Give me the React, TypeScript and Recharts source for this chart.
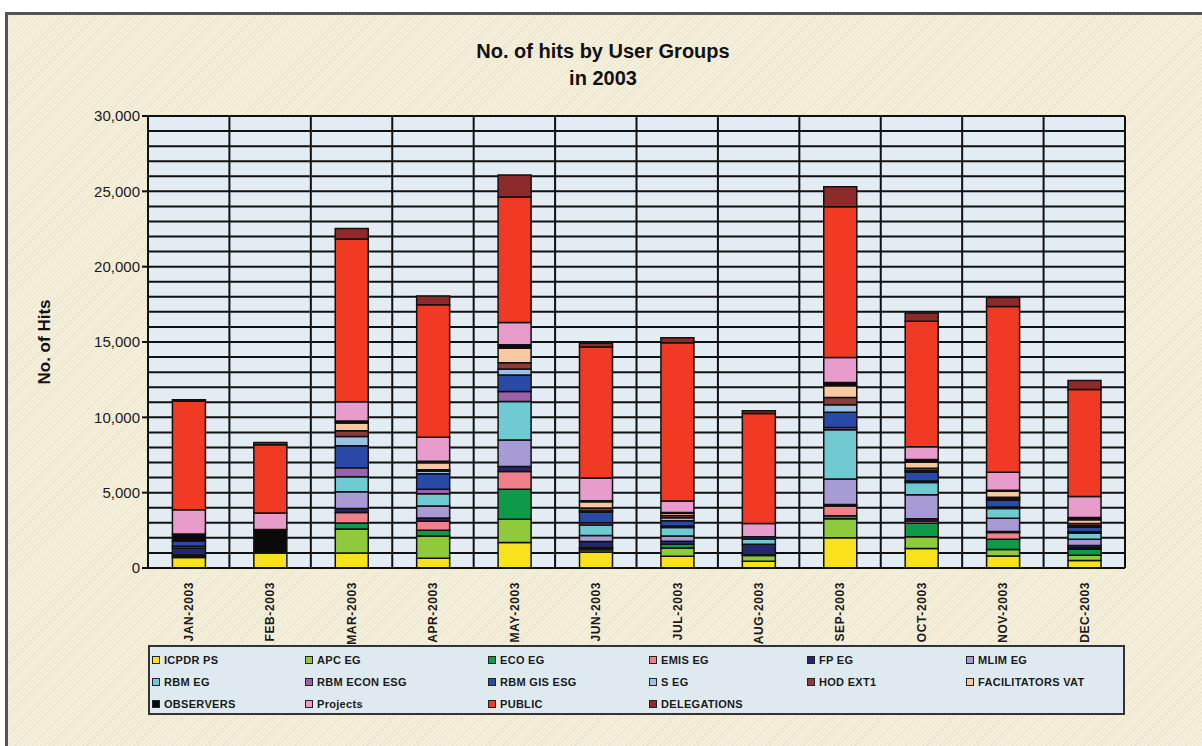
import React from 'react';
import { BarChart, Bar, XAxis, YAxis, CartesianGrid, Legend } from 'recharts';

const months = ['JAN-2003', 'FEB-2003', 'MAR-2003', 'APR-2003', 'MAY-2003', 'JUN-2003', 'JUL-2003', 'AUG-2003', 'SEP-2003', 'OCT-2003', 'NOV-2003', 'DEC-2003'];

const icpdrPs = [700, 1000, 1000, 650, 1700, 1060, 780, 450, 2000, 1300, 800, 500];
const apcEg = [100, 0, 1590, 1470, 1530, 150, 550, 380, 1270, 770, 420, 350];
const ecoEg = [60, 0, 400, 380, 2000, 100, 250, 50, 200, 900, 680, 400];
const emisEg = [0, 0, 700, 600, 1170, 50, 0, 0, 640, 150, 450, 100];
const fpEg = [470, 0, 265, 220, 330, 400, 200, 700, 100, 150, 80, 150];
const mlimEg = [120, 0, 1100, 790, 1770, 400, 350, 0, 1700, 1600, 870, 400];
const rbmEg = [0, 0, 1000, 820, 2550, 700, 550, 350, 3270, 800, 650, 400];
const rbmEconEsg = [0, 0, 600, 290, 660, 150, 100, 0, 150, 100, 100, 100];
const rbmGisEsg = [350, 0, 1460, 1040, 1100, 700, 350, 150, 1000, 600, 450, 300];
const sEg = [0, 0, 620, 160, 390, 80, 200, 0, 500, 100, 100, 100];
const hodExt1 = [0, 0, 375, 100, 430, 200, 150, 0, 490, 150, 100, 150];
const facilitatorsVat = [0, 0, 510, 470, 960, 400, 150, 0, 770, 400, 400, 250];
const observers = [450, 1550, 130, 100, 220, 80, 50, 0, 220, 180, 60, 150];
const projects = [1620, 1100, 1280, 1580, 1480, 1500, 770, 880, 1660, 840, 1200, 1400];
const publicHits = [7190, 4535, 10800, 8800, 8340, 8700, 10500, 7300, 10000, 8340, 11000, 7100];
const delegations = [110, 150, 700, 575, 1460, 250, 330, 170, 1330, 550, 590, 600];

const yTicks = [0, 5000, 10000, 15000, 20000, 25000, 30000];
const boundTicks = [0, 1, 2, 3, 4, 5, 6, 7, 8, 9, 10, 11, 12];

const series = [
  { key: 's1', name: 'ICPDR PS', color: '#f7e21b', values: icpdrPs },
  { key: 's2', name: 'APC EG', color: '#8fca3c', values: apcEg },
  { key: 's3', name: 'ECO EG', color: '#0f9a4a', values: ecoEg },
  { key: 's4', name: 'EMIS EG', color: '#f2808a', values: emisEg },
  { key: 's5', name: 'FP EG', color: '#26266a', values: fpEg },
  { key: 's6', name: 'MLIM EG', color: '#a89ad4', values: mlimEg },
  { key: 's7', name: 'RBM EG', color: '#6fcad2', values: rbmEg },
  { key: 's8', name: 'RBM ECON ESG', color: '#9a62a8', values: rbmEconEsg },
  { key: 's9', name: 'RBM GIS ESG', color: '#2a4aa8', values: rbmGisEsg },
  { key: 's10', name: 'S EG', color: '#9cc0e6', values: sEg },
  { key: 's11', name: 'HOD EXT1', color: '#8c3a3a', values: hodExt1 },
  { key: 's12', name: 'FACILITATORS VAT', color: '#f8c8a0', values: facilitatorsVat },
  { key: 's13', name: 'OBSERVERS', color: '#0a0a0a', values: observers },
  { key: 's14', name: 'Projects', color: '#e89ccc', values: projects },
  { key: 's15', name: 'PUBLIC', color: '#f03a24', values: publicHits },
  { key: 's16', name: 'DELEGATIONS', color: '#8e2a2a', values: delegations },
];

const seriesOrder = series.map((s) => s.name);

const data = months.map((m, i) => {
  const row: Record<string, any> = { month: m };
  series.forEach((s) => {
    row[s.key] = s.values[i];
  });
  return row;
});

const FONT = '"Liberation Sans", Arial, sans-serif';

const XTick = (props: any) => {
  const { x, y, payload } = props;
  return (
    <g transform={`translate(${x},${y})`}>
      <text
        transform="rotate(-90)"
        x={-6}
        y={0}
        dy="0.36em"
        textAnchor="end"
        fontSize={12}
        fontWeight="bold"
        fontFamily={FONT}
        fill="#1a1a1a"
        letterSpacing={0.6}
      >
        {payload.value}
      </text>
    </g>
  );
};

const colX = [2, 155, 338, 499, 657, 816];
const rowY = [5, 27, 49];

const LegendContent = (props: any) => {
  const payload = (props.payload || [])
    .slice()
    .sort((a: any, b: any) => seriesOrder.indexOf(a.value) - seriesOrder.indexOf(b.value));
  return (
    <div
      style={{
        position: 'relative',
        width: 977,
        height: 70,
        boxSizing: 'border-box',
        border: '2px solid #333',
        background: '#dfeaf0',
        fontFamily: FONT,
      }}
    >
      {payload.map((entry: any, i: number) => {
        const col = i % 6;
        const row = Math.floor(i / 6);
        return (
          <div
            key={i}
            style={{
              position: 'absolute',
              left: colX[col],
              top: rowY[row],
              height: 16,
              display: 'flex',
              alignItems: 'center',
              whiteSpace: 'nowrap',
              fontSize: 11,
              fontWeight: 'bold',
              color: '#1a1a1a',
              letterSpacing: 0.3,
            }}
          >
            <span
              style={{
                display: 'inline-block',
                width: 6,
                height: 6,
                background: entry.color,
                border: '1px solid #222',
                marginRight: 4,
              }}
            />
            {entry.value}
          </div>
        );
      })}
    </div>
  );
};

export default function App() {
  return (
    <div
      style={{
        position: 'fixed',
        left: 0,
        top: 0,
        width: 1202,
        height: 746,
        overflow: 'hidden',
        background: '#ffffff',
      }}
    >
      <div
        style={{
          position: 'absolute',
          left: 5,
          top: 12,
          width: 1220,
          height: 760,
          borderTop: '3px solid #555',
          borderLeft: '3px solid #555',
          background:
            'repeating-linear-gradient(135deg, #f5f0dc 0px, #f5f0dc 2px, #ece6cd 2px, #ece6cd 3px)',
        }}
      />
      <div
        style={{
          position: 'absolute',
          left: 0,
          width: 1206,
          top: 38,
          textAlign: 'center',
          fontFamily: FONT,
          fontWeight: 'bold',
          fontSize: 20,
          color: '#111',
          lineHeight: '27px',
        }}
      >
        <div>No. of hits by User Groups</div>
        <div>in 2003</div>
      </div>
      <div style={{ position: 'absolute', left: 0, top: 0 }}>
        <BarChart
          width={1202}
          height={746}
          data={data}
          margin={{ top: 116, right: 77, bottom: 108, left: 88 }}
          barCategoryGap="30%"
        >
          <CartesianGrid
            fill="#e2ecf2"
            fillOpacity={1}
            stroke="#111"
            strokeWidth={2}
            horizontalCoordinatesGenerator={({ offset }: any) =>
              Array.from({ length: 31 }, (_, i) => offset.top + (offset.height * i) / 30)
            }
            verticalCoordinatesGenerator={({ offset }: any) =>
              Array.from({ length: 13 }, (_, i) => offset.left + (offset.width * i) / 12)
            }
          />
          <XAxis
            xAxisId="bounds"
            type="number"
            domain={[0, 12]}
            ticks={boundTicks}
            height={0}
            tick={false}
            tickSize={6}
            tickLine={{ stroke: '#111', strokeWidth: 2 }}
            axisLine={false}
          />
          <XAxis
            dataKey="month"
            height={70}
            interval={0}
            tick={<XTick />}
            tickLine={false}
            axisLine={{ stroke: '#111', strokeWidth: 2 }}
          />
          <YAxis
            width={60}
            domain={[0, 30000]}
            ticks={yTicks}
            interval={0}
            tickFormatter={(v: number) => v.toLocaleString('en-US')}
            tick={{ fontSize: 15, fill: '#1a1a1a', fontFamily: FONT }}
            tickSize={6}
            tickLine={{ stroke: '#111', strokeWidth: 2 }}
            axisLine={{ stroke: '#111', strokeWidth: 2 }}
            label={{
              value: 'No. of Hits',
              angle: -90,
              position: 'left',
              offset: 44,
              style: { fontSize: 17, fontWeight: 'bold', fill: '#111', fontFamily: FONT, textAnchor: 'middle' },
            }}
          />
          <Legend
            layout="vertical"
            align="center"
            verticalAlign="middle"
            wrapperStyle={{ left: 148, top: 645, width: 977, height: 70 }}
            content={<LegendContent />}
          />
          {series.map((s) => (
            <Bar
              key={s.key}
              dataKey={s.key}
              name={s.name}
              stackId="a"
              fill={s.color}
              stroke="#111"
              strokeWidth={1.5}
              isAnimationActive={false}
            />
          ))}
        </BarChart>
      </div>
    </div>
  );
}
